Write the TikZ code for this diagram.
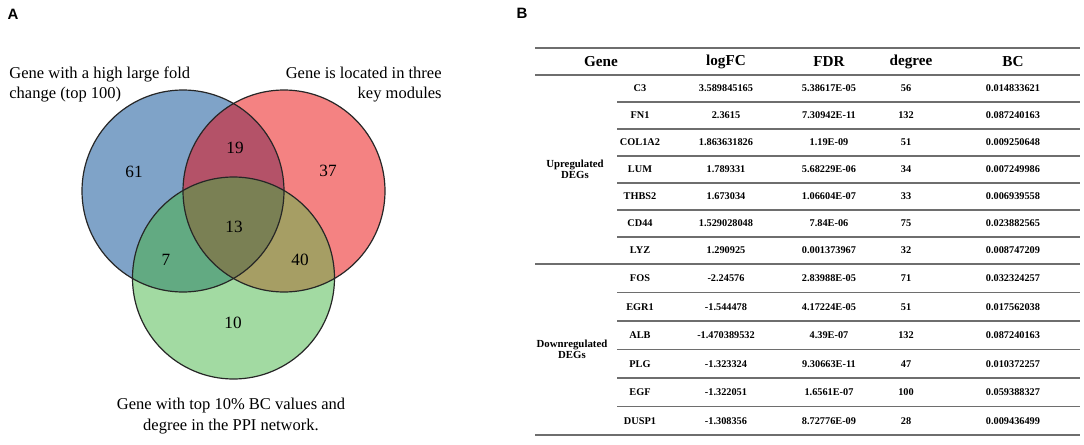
\documentclass[tikz,border=0pt]{standalone}
\usepackage{fontspec}
\setmainfont{Liberation Serif}
\newfontfamily\labfont{Liberation Sans}
\definecolor{vblue}{RGB}{127,163,200}
\definecolor{vred}{RGB}{244,130,130}
\definecolor{vgreen}{RGB}{162,218,162}
\definecolor{vbr}{RGB}{180,82,104}
\definecolor{vbg}{RGB}{98,170,130}
\definecolor{vrg}{RGB}{166,158,100}
\definecolor{vbrg}{RGB}{122,128,84}
\definecolor{rulegray}{RGB}{110,110,110}
\begin{document}
\begin{tikzpicture}[x=0.5pt,y=-0.5pt,
  vlabel/.style={font=\fontsize{8.25}{10.3}\selectfont, inner sep=0pt},
  vnum/.style={font=\fontsize{8.6}{10}\selectfont, inner sep=0pt},
  panel/.style={font=\labfont\bfseries\fontsize{7.5}{9}\selectfont, inner sep=0pt},
  thead/.style={font=\bfseries\fontsize{7.6}{9}\selectfont, inner sep=0pt},
  tcell/.style={font=\bfseries\fontsize{5.15}{6}\selectfont, inner sep=0pt},
  tgroup/.style={font=\bfseries\fontsize{5.4}{5.4}\selectfont, inner sep=0pt, align=center},
  trule/.style={draw=rulegray, line width=0.9pt},
  vcircle/.style={draw=black!85, line width=0.6pt}
]
\useasboundingbox (0,0) rectangle (1084,445);

% ---------- Venn diagram ----------
\coordinate (cb) at (183,191);
\coordinate (cr) at (284,191);
\coordinate (cg) at (233.5,278);
\def\vr{50.5pt}
\fill[vblue] (cb) circle[radius=\vr];
\fill[vred] (cr) circle[radius=\vr];
\fill[vgreen] (cg) circle[radius=\vr];
\begin{scope}
  \clip (cb) circle[radius=\vr];
  \fill[vbr] (cr) circle[radius=\vr];
  \fill[vbg] (cg) circle[radius=\vr];
\end{scope}
\begin{scope}
  \clip (cr) circle[radius=\vr];
  \fill[vrg] (cg) circle[radius=\vr];
\end{scope}
\begin{scope}
  \clip (cb) circle[radius=\vr];
  \clip (cr) circle[radius=\vr];
  \fill[vbrg] (cg) circle[radius=\vr];
\end{scope}
\draw[vcircle] (cb) circle[radius=\vr];
\draw[vcircle] (cr) circle[radius=\vr];
\draw[vcircle] (cg) circle[radius=\vr];

\node[vnum] (n61) at (134,172) {61};
\node[vnum] (n19) at (235,148) {19};
\node[vnum] (n37) at (328,171) {37};
\node[vnum] (n13) at (234,227) {13};
\node[vnum] (n7)  at (166,260) {7};
\node[vnum] (n40) at (300,260) {40};
\node[vnum] (n10) at (233,323) {10};

\node[vlabel, anchor=west, align=left] (labA) at (9,84.5) {Gene with a high large fold\\change (top 100)};
\node[vlabel, anchor=east, align=right] (labB) at (442,84.5) {Gene is located in three\\key modules};
\node[vlabel, align=center] (labC) at (231,416) {Gene with top 10\% BC values and\\degree in the PPI network.};

\node[panel] (pA) at (13,14) {A};
\node[panel] (pB) at (522,13) {B};

% ---------- Table ----------
\def\ya{75}\def\pu{27}\def\ymid{264}\def\pd{28.5}
\draw[trule] (535,48) -- (1080,48);
\draw[trule] (535,\ya) -- (1080,\ya);
\draw[trule] (535,\ymid) -- (1080,\ymid);
\draw[trule] (535,{\ymid+6*\pd}) -- (1080,{\ymid+6*\pd});
\foreach \k in {1,...,6}{
  \draw[trule] (617,{\ya+\pu*\k}) -- (1080,{\ya+\pu*\k});
}
\foreach \k in {1,...,5}{
  \draw[trule] (617,{\ymid+\pd*\k}) -- (1080,{\ymid+\pd*\k});
}

\node[thead] (hG) at (601,61.5) {Gene};
\node[thead] (hL) at (726,61.5) {logFC};
\node[thead] (hF) at (829,61.5) {FDR};
\node[thead] (hD) at (911,61.5) {degree};
\node[thead] (hB) at (1013,61.5) {BC};

\node[tgroup] (gUp) at (575,169.5) {Upregulated\\DEGs};
\node[tgroup] (gDn) at (572,349.5) {Downregulated\\DEGs};

\foreach \g/\l/\f/\d/\b [count=\i] in {
  C3/3.589845165/5.38617E-05/56/0.014833621,
  FN1/2.3615/7.30942E-11/132/0.087240163,
  COL1A2/1.863631826/1.19E-09/51/0.009250648,
  LUM/1.789331/5.68229E-06/34/0.007249986,
  THBS2/1.673034/1.06604E-07/33/0.006939558,
  CD44/1.529028048/7.84E-06/75/0.023882565,
  LYZ/1.290925/0.001373967/32/0.008747209}{
  \node[tcell] (g\i) at (640,{\ya+\pu*(\i-0.5)}) {\g};
  \node[tcell] (l\i) at (726,{\ya+\pu*(\i-0.5)}) {\l};
  \node[tcell] (f\i) at (829,{\ya+\pu*(\i-0.5)}) {\f};
  \node[tcell] (d\i) at (906,{\ya+\pu*(\i-0.5)}) {\d};
  \node[tcell] (b\i) at (1013,{\ya+\pu*(\i-0.5)}) {\b};
}
\foreach \g/\l/\f/\d/\b [count=\i] in {
  FOS/-2.24576/2.83988E-05/71/0.032324257,
  EGR1/-1.544478/4.17224E-05/51/0.017562038,
  ALB/-1.470389532/4.39E-07/132/0.087240163,
  PLG/-1.323324/9.30663E-11/47/0.010372257,
  EGF/-1.322051/1.6561E-07/100/0.059388327,
  DUSP1/-1.308356/8.72776E-09/28/0.009436499}{
  \node[tcell] (dg\i) at (640,{\ymid+\pd*(\i-0.5)}) {\g};
  \node[tcell] (dl\i) at (726,{\ymid+\pd*(\i-0.5)}) {\l};
  \node[tcell] (df\i) at (829,{\ymid+\pd*(\i-0.5)}) {\f};
  \node[tcell] (dd\i) at (906,{\ymid+\pd*(\i-0.5)}) {\d};
  \node[tcell] (db\i) at (1013,{\ymid+\pd*(\i-0.5)}) {\b};
}
\end{tikzpicture}
\end{document}
